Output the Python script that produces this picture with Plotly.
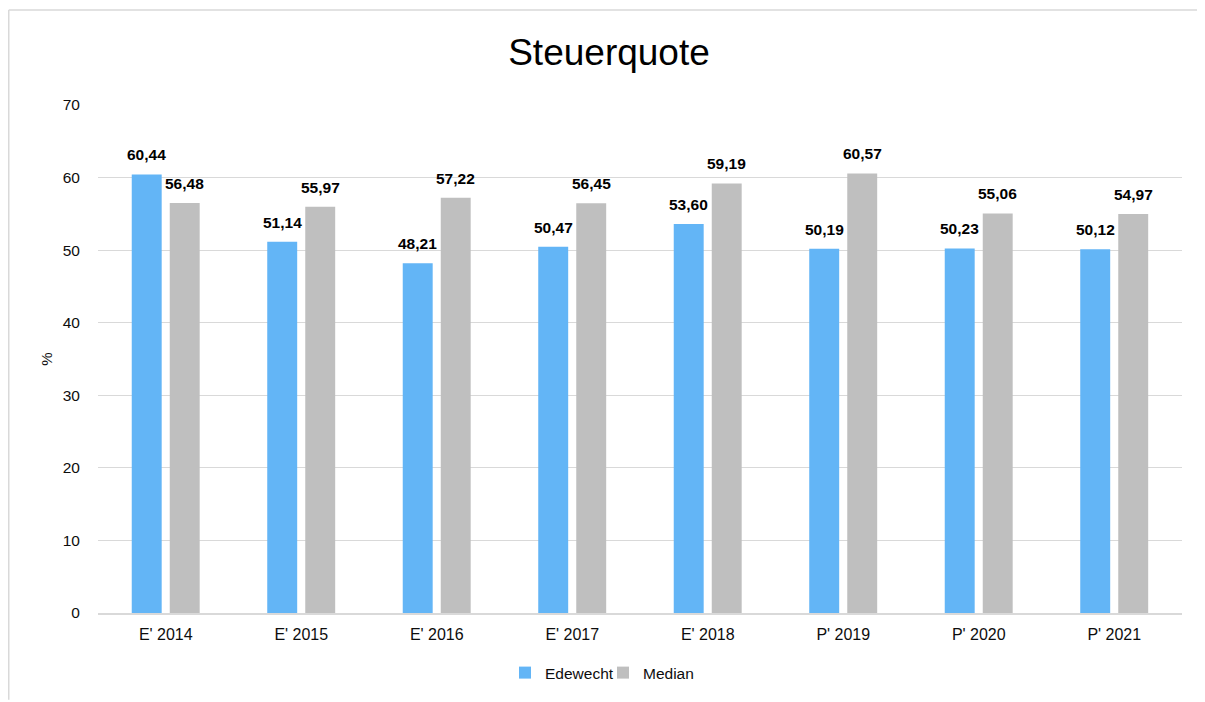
import plotly.graph_objects as go

categories = ["E' 2014", "E' 2015", "E' 2016", "E' 2017", "E' 2018", "P' 2019", "P' 2020", "P' 2021"]
edewecht = [60.44, 51.14, 48.21, 50.47, 53.60, 50.19, 50.23, 50.12]
median = [56.48, 55.97, 57.22, 56.45, 59.19, 60.57, 55.06, 54.97]
y_ticks = [0, 10, 20, 30, 40, 50, 60, 70]

BLUE = "#63b5f6"
GRAY = "#bfbfbf"
FONT = "Liberation Sans, Arial, sans-serif"
TXT = "#0d0d0d"

def fmt(v):
    return f"{v:.2f}".replace(".", ",")

x_idx = list(range(len(categories)))
W = 0.221
OFF_B = -0.251
OFF_G = 0.0295

fig = go.Figure()
fig.add_trace(go.Bar(x=x_idx, y=edewecht, name="Edewecht", marker_color=BLUE,
                     width=W, offset=OFF_B, marker_line_width=0))
fig.add_trace(go.Bar(x=x_idx, y=median, name="Median", marker_color=GRAY,
                     width=W, offset=OFF_G, marker_line_width=0))

ann = []
for i, v in enumerate(edewecht):
    ann.append(dict(x=i + OFF_B + W / 2, y=v, text=f"<b>{fmt(v)}</b>", showarrow=False,
                    yanchor="bottom", yshift=9, font=dict(size=15.5, color="#000000", family=FONT)))
for i, v in enumerate(median):
    ann.append(dict(x=i + OFF_G + W / 2, y=v, text=f"<b>{fmt(v)}</b>", showarrow=False,
                    yanchor="bottom", yshift=9, font=dict(size=15.5, color="#000000", family=FONT)))

# figure is placed 8px in from the page edge; coordinates below are figure pixels
FW, FH = 1197, 694
L, R, T, B = 90, 1174, 96.5, 608.5
def px_x(p): return (p - L) / (R - L)
def px_y(p): return (B - p) / (B - T)
shapes = [
    dict(type="line", xref="paper", yref="paper", x0=px_x(0.75), x1=px_x(0.75), y0=px_y(FH + 2), y1=px_y(0.75),
         line=dict(color="#d9d9d9", width=1.5)),
    dict(type="line", xref="paper", yref="paper", x0=px_x(0.75), x1=px_x(FW + 2), y0=px_y(0.75), y1=px_y(0.75),
         line=dict(color="#d9d9d9", width=1.5)),
]

fig.update_layout(
    width=FW, height=FH,
    paper_bgcolor="white", plot_bgcolor="white",
    margin=dict(l=L, r=FW - R, t=T, b=FH - B),
    barmode="overlay",
    title=dict(text="Steuerquote", x=px_x(601), xref="paper", xanchor="center",
               y=1 - 44 / FH, yanchor="middle",
               font=dict(size=37, color="#000000", family=FONT)),
    font=dict(family=FONT, size=16, color=TXT),
    xaxis=dict(tickmode="array", tickvals=x_idx, ticktext=categories, range=[-0.5, len(categories) - 0.5],
               showgrid=False, showline=True, linecolor="#d9d9d9", linewidth=1.5,
               ticks="outside", ticklen=6, tickcolor="rgba(0,0,0,0)",
               tickfont=dict(size=16, color=TXT)),
    yaxis=dict(range=[0, 70], tickvals=y_ticks, showgrid=True, gridcolor="#d9d9d9", gridwidth=1,
               zeroline=False, showline=False,
               ticks="outside", ticklen=14, tickcolor="rgba(0,0,0,0)",
               tickfont=dict(size=15.5, color=TXT),
               title=dict(text="%", font=dict(size=15, color=TXT), standoff=6)),
    legend=dict(orientation="h", x=px_x(497), xanchor="left", y=px_y(669), yanchor="middle",
                font=dict(size=15.5, color=TXT), itemwidth=30, entrywidth=53, entrywidthmode="pixels",
                traceorder="normal"),
    annotations=ann,
    shapes=shapes,
    showlegend=True,
)

fig.write_html("out.html")
